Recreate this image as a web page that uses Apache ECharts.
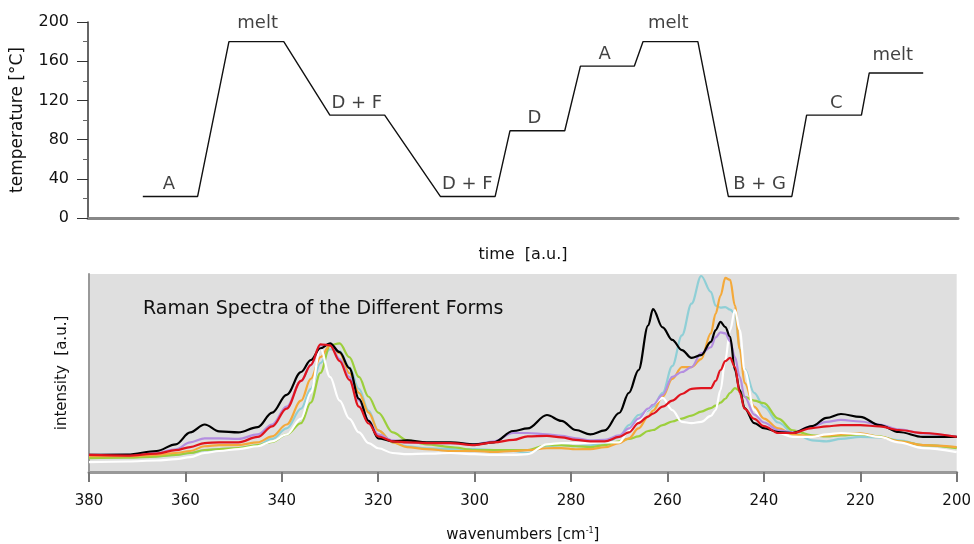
<!DOCTYPE html>
<html>
<head>
<meta charset="utf-8">
<title>Temperature program and Raman spectra</title>
<script src="https://cdn.jsdelivr.net/npm/echarts@6/dist/echarts.min.js"></script>
<style>
  body { margin: 0; background: #fff; }
  #main { width: 974px; height: 544px; }
</style>
</head>
<body>
<div id="main"></div>
<script>
// temperature program (time in a.u., temperature in °C)
var timePts = [6.3, 12.6, 16.2, 22.5, 27.8, 34.1, 40.5, 46.8, 48.5, 54.8, 56.6, 62.8, 63.8, 70.1, 73.6, 80.9, 82.6, 88.9, 89.8, 96.0];
var tempPts = [22, 22, 180, 180, 105, 105, 22, 22, 89, 89, 155, 155, 180, 180, 22, 22, 105, 105, 148, 148];
// stage labels: [time, temperature of plateau, text]
var stageLabels = [
  [9.3, 22, 'A'], [19.5, 180, 'melt'], [30.9, 105, 'D + F'], [43.6, 22, 'D + F'],
  [51.3, 89, 'D'], [59.4, 155, 'A'], [66.7, 180, 'melt'], [77.2, 22, 'B + G'],
  [86.0, 105, 'C'], [92.5, 148, 'melt']
];
var tempTicks = [0, 40, 80, 120, 160, 200];

// Raman spectra, shared wavenumber grid (cm-1) and intensities (a.u.)
var wn = [380, 372, 366, 362, 359, 356, 353, 349, 345, 342, 339, 336, 334, 332, 330, 328, 326, 324, 322, 320,
  317, 314, 310, 305, 300, 296, 292, 289, 285, 282, 279, 276, 273, 270, 268, 266, 264, 263, 261, 259,
  257, 255, 253, 251, 250, 249, 248, 247, 246, 245, 244, 242, 240, 237, 234, 230, 227, 224, 220, 216,
  212, 207, 200];
var black = [8.6, 8.8, 10.6, 14, 20, 24, 20.5, 20, 22.7, 30, 39, 50.5, 56.5, 62.5, 65, 60.5, 52.5, 37, 25.8, 17,
  15.5, 16, 15, 15, 14, 15, 20.7, 22, 28.8, 25.8, 21.2, 19, 21, 29.8, 40, 51.5, 74, 82.3, 73, 66.7,
  61.6, 57.6, 59, 65.7, 71.7, 75.8, 73.2, 68.2, 51.5, 41.4, 32.3, 24.7, 22.2, 20.2, 19.7, 23.2, 27.3, 29.3, 27.8, 23.7,
  20.2, 17.7, 17.7];
var red = [8.6, 8.3, 9.3, 11, 12.6, 14.6, 15, 15, 17.7, 23, 32, 46, 54, 64.5, 64, 56, 46.5, 33, 24.5, 18,
  15.5, 15, 14.6, 14.6, 13.6, 15, 16.2, 18, 18.2, 17.5, 16.2, 15.5, 15.5, 17.7, 20, 24.7, 28, 29.5, 33, 36,
  39.4, 42, 42.4, 42.4, 46, 51.5, 56, 57.6, 53, 40, 32, 26.8, 23.2, 19.7, 19.7, 22.2, 23, 23.7, 23.7, 23,
  21.2, 19.7, 17.7];
var purple = [8.6, 8.6, 9.6, 11.5, 15, 17, 17, 16.7, 19, 24, 33, 46, 54, 64, 64.5, 57, 48, 36, 26, 19,
  16, 15, 14.6, 14.6, 14, 15.5, 19.7, 19.7, 19, 18.2, 17, 16, 16.2, 18.5, 22, 27, 32, 34, 39, 48,
  50.5, 53, 60, 63, 68, 70.5, 70, 66, 58, 48, 38, 29, 25, 21, 20, 23, 25.3, 26.3, 25.5, 24,
  21.5, 19.5, 17.7];
var orange = [8, 8, 8.6, 9.6, 10.6, 13, 13.6, 13.6, 15, 18, 24, 36, 47, 58, 64, 60, 50, 40, 30, 21,
  15, 12.6, 11.6, 10.6, 10.6, 10.1, 10.6, 11, 12, 12.1, 11.5, 11.6, 12.5, 14.6, 17, 22, 28, 31, 38, 47,
  53, 53, 57, 70, 80, 89, 98, 97, 84, 62, 45, 33, 27, 22, 19, 18, 18.5, 19, 19.5, 17.7,
  15.5, 13.6, 12.6];
var cyan = [8, 7.8, 8, 8.6, 9.6, 11, 11.6, 12.1, 13.6, 16.7, 22, 32, 42, 55, 62, 61, 53, 42, 31, 21,
  15, 13, 12, 11.6, 11.6, 11.1, 10.6, 9.6, 13, 13.6, 13, 13.6, 14.6, 17.7, 23.7, 28.8, 31, 33, 40, 53.5,
  69, 85, 99, 91, 84, 83, 83.3, 82, 80, 62, 52, 40, 33, 25, 20, 16, 15.5, 16.7, 17.7, 17.5,
  16, 13.6, 12.5];
var white = [5, 5.3, 5.8, 6.5, 7.5, 9.6, 10.6, 11.6, 13, 15.5, 19, 27, 40, 62.5, 48, 36, 27, 20, 14.6, 12,
  9.6, 9, 9.3, 9.6, 9, 8.6, 8.6, 9, 14, 14.6, 14.6, 14.6, 15, 15, 20.7, 26, 31.8, 34.3, 37.4, 31.3,
  25.3, 24.7, 25.3, 28.3, 31.3, 41.4, 56.6, 71.7, 81.8, 71.7, 51.5, 31.3, 22.7, 19.7, 17.7, 17.7, 19, 19.7, 19.2, 17.7,
  15, 12.1, 10];
var green = [7, 7.2, 7.8, 8.6, 9.6, 11.1, 11.6, 12.1, 13.6, 15.2, 19, 24.7, 35, 50, 64, 65, 58, 48, 38, 30,
  20, 16, 14, 12.6, 11.1, 11.1, 11.1, 11.1, 13.6, 13.6, 13, 12.6, 13.6, 15.5, 16.7, 18, 20.7, 21.2, 23.7, 25.5,
  27, 28.5, 30.5, 32.3, 33.5, 35, 37, 40, 42.4, 41, 38, 36, 34.8, 27, 21, 18.5, 18, 18.5, 19, 18,
  15.5, 13.6, 12];
var wnTicks = [380, 360, 340, 320, 300, 280, 260, 240, 220, 200];

var spectra = [
  { name: 'cyan', values: cyan, color: '#8fcfd6' },
  { name: 'green', values: green, color: '#9ccf3c' },
  { name: 'orange', values: orange, color: '#f4a93a' },
  { name: 'white', values: white, color: '#ffffff' },
  { name: 'purple', values: purple, color: '#b48ee0' },
  { name: 'black', values: black, color: '#000000' },
  { name: 'red', values: red, color: '#e0141e' }
];

var font = '"DejaVu Sans", Verdana, sans-serif';
var ink = '#111';
var chart = echarts.init(document.getElementById('main'), null, { renderer: 'canvas' });

var series = [
  {
    type: 'line', xAxisIndex: 0, yAxisIndex: 0, symbol: 'none', animation: false,
    lineStyle: { color: '#111', width: 1.4 },
    data: timePts.map(function (t, i) { return [t, tempPts[i]]; })
  },
  {
    type: 'scatter', xAxisIndex: 0, yAxisIndex: 0, symbolSize: 0, animation: false,
    data: stageLabels.map(function (d) {
      return {
        value: [d[0], d[1]],
        label: {
          show: true, position: 'top', distance: d[2] === 'melt' ? 9 : 3,
          formatter: d[2], fontFamily: font, fontSize: 18, color: ink
        }
      };
    })
  }
];
spectra.forEach(function (s) {
  series.push({
    type: 'line', name: s.name, xAxisIndex: 1, yAxisIndex: 1, symbol: 'none', animation: false,
    smooth: 0.35, smoothMonotone: 'x',
    lineStyle: { color: s.color, width: 2.2 },
    data: wn.map(function (w, i) { return [w, s.values[i]]; })
  });
});

var option = {
  backgroundColor: '#ffffff',
  textStyle: { fontFamily: font },
  title: {
    text: 'Raman Spectra of the Different Forms',
    left: 138, top: 295,
    textStyle: { fontFamily: font, fontSize: 19, fontWeight: 'normal', color: ink }
  },
  grid: [
    { left: 88, right: 16, top: 22, height: 196 },
    { left: 89, right: 16, top: 274, height: 198, show: true, backgroundColor: '#dfdfdf', borderWidth: 0 }
  ],
  xAxis: [
    {
      gridIndex: 0, type: 'value', min: 0, max: 100,
      axisLine: { show: true, lineStyle: { color: '#888', width: 3 } },
      axisTick: { show: false }, axisLabel: { show: false }, splitLine: { show: false },
      name: 'time  [a.u.]', nameLocation: 'middle', nameGap: 29,
      nameTextStyle: { fontFamily: font, fontSize: 16, color: ink }
    },
    {
      gridIndex: 1, type: 'value', min: 200, max: 380, interval: 20, inverse: true,
      axisLine: { show: true, onZero: false, lineStyle: { color: '#999', width: 3 } },
      axisTick: { show: true, length: 10, lineStyle: { color: '#777', width: 2 } },
      axisLabel: {
        margin: 22, fontFamily: font, fontSize: 15, color: ink,
        customValues: wnTicks
      },
      splitLine: { show: false },
      name: 'wavenumbers [cm{sup|-1}]', nameLocation: 'middle', nameGap: 55,
      nameTextStyle: {
        fontFamily: font, fontSize: 15, color: ink,
        rich: { sup: { fontSize: 8, verticalAlign: 'top', padding: [0, 0, 9, 0], color: ink } }
      }
    }
  ],
  yAxis: [
    {
      gridIndex: 0, type: 'value', min: 0, max: 200, interval: 40,
      axisLine: { show: true, lineStyle: { color: '#333', width: 1.5 } },
      axisTick: { show: true, length: 11, lineStyle: { color: '#333' } },
      minorTick: { show: true, splitNumber: 2, length: 5, lineStyle: { color: '#666' } },
      axisLabel: {
        margin: 19, fontFamily: font, fontSize: 16, color: ink,
        customValues: tempTicks
      },
      splitLine: { show: false },
      name: 'temperature [°C]', nameLocation: 'middle', nameGap: 62, nameRotate: 90,
      nameTextStyle: { fontFamily: font, fontSize: 17, color: ink }
    },
    {
      gridIndex: 1, type: 'value', min: 0, max: 100,
      axisLine: { show: true, lineStyle: { color: '#999', width: 2 } },
      axisTick: { show: false }, axisLabel: { show: false }, splitLine: { show: false },
      name: 'intensity  [a.u.]', nameLocation: 'middle', nameGap: 19, nameRotate: 90,
      nameTextStyle: { fontFamily: font, fontSize: 15, color: ink }
    }
  ],
  series: series
};
chart.setOption(option);
</script>
</body>
</html>
